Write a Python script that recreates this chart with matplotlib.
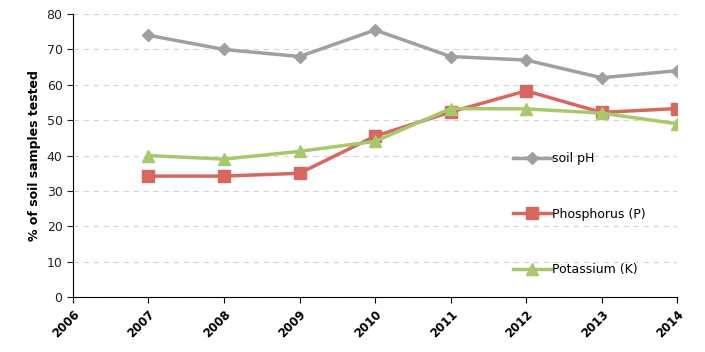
import numpy as np
import matplotlib
matplotlib.use('Agg')
import matplotlib.pyplot as plt

years = [2007, 2008, 2009, 2010, 2011, 2012, 2013, 2014]
soil_ph = [74, 70, 68, 75.5, 68, 67, 62, 64]
phosphorus = [34.2, 34.2, 35, 45.5, 52.3, 58.3, 52.2, 53.3]
potassium = [40, 39, 41.2, 44, 53.3, 53.2, 52, 49]

fig = plt.figure(figsize=(7.05, 3.52), dpi=100)
ax = fig.add_axes([0.1035, 0.156, 0.857, 0.804])

ax.plot(years, soil_ph, color='#a0a0a0', lw=2.5, marker='D', ms=6, label='soil pH')
ax.plot(years, phosphorus, color='#d9675f', lw=2.5, marker='s', ms=8, label='Phosphorus (P)')
ax.plot(years, potassium, color='#a8c96b', lw=2.5, marker='^', ms=8, label='Potassium (K)')

ax.set_xlim(2006, 2014)
ax.set_ylim(0, 80)
ax.set_yticks(np.arange(0, 81, 10))
ax.set_xticks(np.arange(2006, 2015))
ax.set_xticklabels([str(y) for y in range(2006, 2015)], rotation=45, ha='right',
                   rotation_mode='anchor', fontsize=8.5, fontweight='bold')
ax.tick_params(axis='y', labelsize=9, length=4, colors='#222222')
ax.tick_params(axis='x', length=4)
ax.yaxis.grid(True, ls=(0, (5, 4)), color='#d4d4d4', lw=0.8)
ax.set_axisbelow(True)
for s in ['top', 'right']:
    ax.spines[s].set_visible(False)
ax.set_ylabel('% of soil samples tested', fontsize=9, fontweight='bold')

ax.legend(loc='upper left', bbox_to_anchor=(0.718, 0.534), frameon=False, fontsize=9,
          handlelength=3.0, handletextpad=0.1, labelspacing=3.4, borderpad=0)

fig.savefig('out.png', dpi=100)
